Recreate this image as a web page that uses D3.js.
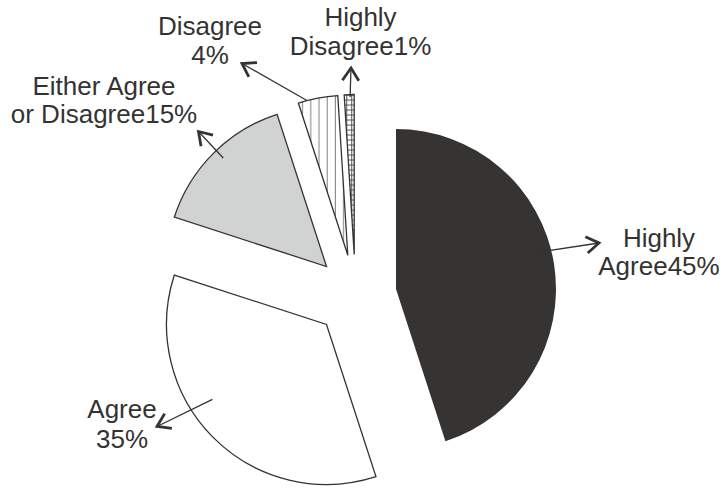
<!DOCTYPE html>
<html>
<head>
<meta charset="utf-8">
<script src="https://cdn.jsdelivr.net/npm/d3@7"></script>
<style>
  html, body { margin: 0; padding: 0; background: #fff; }
  svg { display: block; }
  text { font-family: "Liberation Sans", Arial, sans-serif; font-size: 26px; fill: #333; }
</style>
</head>
<body>
<svg id="chart" width="724" height="490"></svg>
<script>
// Survey responses (percent)
const categories = ["Highly Agree", "Agree", "Either Agree or Disagree", "Disagree", "Highly Disagree"];
const values = [45, 35, 15, 4, 1];
// Label text: first line, and the words that precede the percentage on the second line
const labelHead = ["Highly", "Agree", "Either Agree", "Disagree", "Highly"];
const labelTail = ["Agree", "", "or Disagree", "", "Disagree"];

// Layout
const width = 724, height = 490;
const cx = 355.5, cy = 295.5, radius = 160, explode = 41;
const fills = ["#353432", "#ffffff", "#d1d3d2", "url(#stripes)", "url(#grid)"];
// label centre x, first and second baselines
const labelPos = [
  { x: 659, y1: 247, y2: 275 },
  { x: 122, y1: 418, y2: 448 },
  { x: 104, y1: 95, y2: 123 },
  { x: 210, y1: 35, y2: 64 },
  { x: 360.5, y1: 26, y2: 55 }
];
// leader arrows: start on the slice (angle in degrees, fraction of radius) and tip by the label
const leaders = [
  { a: 75.3, r: 0.9, tx: 599, ty: 243 },
  { a: 236.7, r: 0.853, tx: 157, ty: 426.5 },
  { a: 316.4, r: 0.936, tx: 198.5, ty: 131.5 },
  { a: 345.2, r: 1.0, tx: 242, ty: 63.5 },
  { a: 358.5, r: 0.985, tx: 351, ty: 68 }
];

const svg = d3.select("#chart");
const defs = svg.append("defs");

const stripes = defs.append("pattern")
  .attr("id", "stripes").attr("patternUnits", "userSpaceOnUse")
  .attr("width", 8.2).attr("height", 10);
stripes.append("rect").attr("width", 8.2).attr("height", 10).attr("fill", "#fff");
stripes.append("line").attr("x1", 4).attr("x2", 4).attr("y1", 0).attr("y2", 10)
  .attr("stroke", "#8a8a8a").attr("stroke-width", 1.1);

const grid = defs.append("pattern")
  .attr("id", "grid").attr("patternUnits", "userSpaceOnUse")
  .attr("width", 5).attr("height", 5);
grid.append("rect").attr("width", 5).attr("height", 5).attr("fill", "#fff");
grid.append("path").attr("d", "M0,0.5H5M2.5,0V5")
  .attr("stroke", "#444").attr("stroke-width", 0.9).attr("fill", "none");

const pie = d3.pie().sort(null).value(d => d);
const arcs = pie(values);
const arc = d3.arc().innerRadius(0).outerRadius(radius);

// apex of each exploded slice
const apex = arcs.map(d => {
  const mid = (d.startAngle + d.endAngle) / 2;
  return [cx + explode * Math.sin(mid), cy - explode * Math.cos(mid)];
});

svg.append("g").selectAll("path")
  .data(arcs)
  .join("path")
  .attr("transform", (d, i) => `translate(${apex[i][0]},${apex[i][1]})`)
  .attr("d", arc)
  .attr("fill", (d, i) => fills[i])
  .attr("stroke", (d, i) => i === 0 ? "none" : "#333")
  .attr("stroke-width", 1.3)
  .attr("stroke-linejoin", "miter");

// leader arrows
const arrows = svg.append("g").attr("fill", "none").attr("stroke", "#333");
leaders.forEach((L, i) => {
  const a = L.a * Math.PI / 180;
  const sx = apex[i][0] + L.r * radius * Math.sin(a);
  const sy = apex[i][1] - L.r * radius * Math.cos(a);
  arrows.append("line")
    .attr("x1", sx).attr("y1", sy).attr("x2", L.tx).attr("y2", L.ty)
    .attr("stroke-width", 1.3);
  const ang = Math.atan2(sy - L.ty, sx - L.tx);
  const len = 15, spread = 0.58;
  const p1 = [L.tx + len * Math.cos(ang + spread), L.ty + len * Math.sin(ang + spread)];
  const p2 = [L.tx + len * Math.cos(ang - spread), L.ty + len * Math.sin(ang - spread)];
  arrows.append("path")
    .attr("d", `M${p1[0]},${p1[1]}L${L.tx},${L.ty}L${p2[0]},${p2[1]}`)
    .attr("stroke-width", 2.8)
    .attr("stroke-linejoin", "miter");
});

// labels
const labels = svg.append("g").attr("text-anchor", "middle");
categories.forEach((c, i) => {
  const p = labelPos[i];
  labels.append("text").attr("x", p.x).attr("y", p.y1).text(labelHead[i]);
  labels.append("text").attr("x", p.x).attr("y", p.y2).text(labelTail[i] + values[i] + "%");
});
</script>
</body>
</html>
